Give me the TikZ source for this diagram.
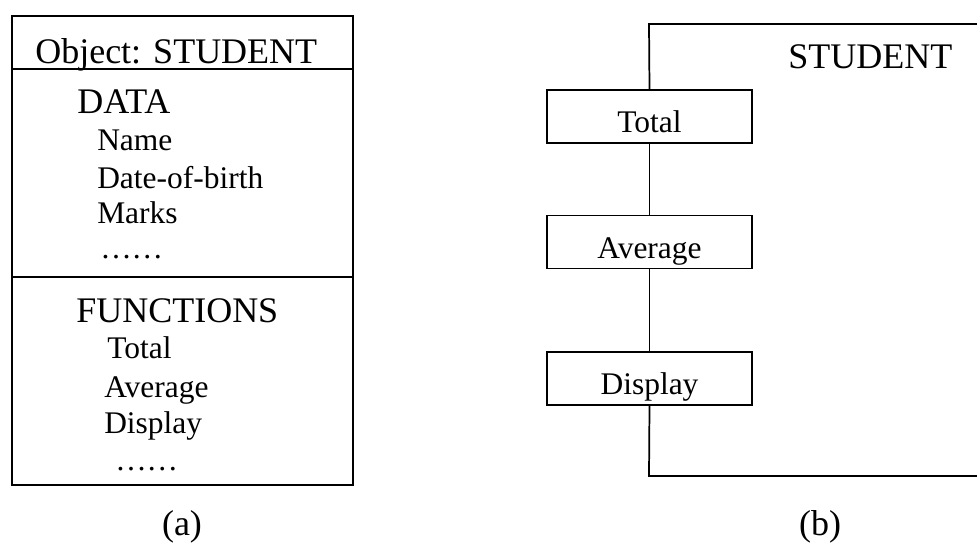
\documentclass[tikz,border=0pt]{standalone}
\usepackage{fontspec}
\setmainfont{Liberation Serif}
\usetikzlibrary{positioning}

\begin{document}
\begin{tikzpicture}[
                x=0.75pt, y=-0.75pt,
                big/.style={font=\fontsize{27}{32}\selectfont, inner sep=0pt, anchor=base west},
                small/.style={font=\fontsize{23.6}{28}\selectfont, inner sep=0pt, anchor=base west},
                sublabel/.style={font=\fontsize{27}{32}\selectfont, inner sep=0pt, anchor=base},
                fnbox/.style={rectangle, draw, line width=1.3pt, fill=white, minimum width=153.75pt, minimum height=39.75pt, inner sep=0pt, text height=24pt, text depth=0pt, font=\fontsize{23.6}{28}\selectfont},
                edge/.style={line width=1.3pt}
            ]
            \useasboundingbox (0,0) rectangle (977,543);
            % (a) object as a table
            \draw[edge] (12,16) rectangle (353,485);
            \draw[edge] (12,69) -- (353,69);
            \draw[edge] (12,277) -- (353,277);
            \node[big]   (obj)   at (35,63)  {Object: STUDENT};
            \node[big]   (data)  at (77,113) {DATA};
            \node[small] (name)  at (97,150) {Name};
            \node[small] (dob)   at (97,188) {Date-of-birth};
            \node[small] (marks) at (97,223) {Marks};
            \node[small] (dotsa) at (100,258) {……};
            \node[big]   (funcs) at (76,322) {FUNCTIONS};
            \node[small] (ftot)  at (107,358) {Total};
            \node[small] (favg)  at (104,397) {Average};
            \node[small] (fdisp) at (104,433) {Display};
            \node[small] (dotsb) at (115,470) {……};
            \node[sublabel] (capa) at (182,535) {(a)};
            % (b) object with its functions on the border
            \coordinate (tr) at (980,24);
            \coordinate (tl) at (649,24);
            \coordinate (bl) at (649,476);
            \coordinate (br) at (980,476);
            \node[big]   (stud)  at (788,68) {STUDENT};
            \node[fnbox] (total)   at (649.5,116.5) {Total};
            \node[fnbox] (average) at (649.5,242)   {Average};
            \node[fnbox] (display) at (649.5,378.5) {Display};
            \draw[edge] (tr) -- (tl) -- (total.north);
            \draw[edge] (total) -- (average);
            \draw[edge] (average) -- (display);
            \draw[edge] (display.south) -- (bl) -- (br);
            \node[sublabel] (capb) at (820,535) {(b)};
        \end{tikzpicture}
\end{document}
